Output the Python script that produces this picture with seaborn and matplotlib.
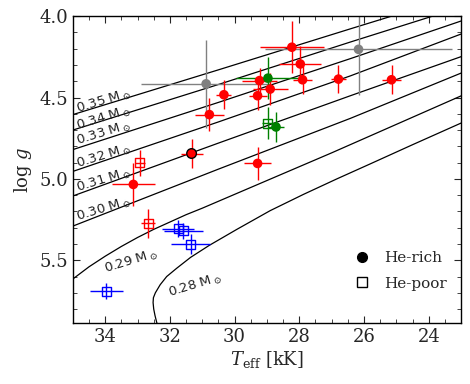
import matplotlib
matplotlib.use('Agg')
import matplotlib.pyplot as plt
from matplotlib.lines import Line2D
from matplotlib.ticker import MultipleLocator
import seaborn as sns
import pandas as pd

# evolutionary tracks (Teff in kK, log g)
track_masses = ['0.35', '0.34', '0.33', '0.32', '0.31', '0.30', '0.29', '0.28']
track_teff = {
    '0.35': [35.0, 30.5, 26.42, 24.0],
    '0.34': [35.0, 30.5, 26.42, 23.0],
    '0.33': [35.0, 30.5, 26.42, 23.0],
    '0.32': [35.0, 30.5, 26.42, 23.0],
    '0.31': [35.0, 30.5, 26.42, 23.0],
    '0.30': [35.0, 30.5, 26.42, 23.0],
    '0.29': [35.0, 34.5, 34.0, 33.5, 33.0, 32.5, 32.0, 31.5, 31.0, 29.0, 27.0, 25.0, 23.0],
    '0.28': [32.33, 32.41, 32.46, 32.50, 32.52, 32.51, 32.45, 32.30, 32.10, 31.79, 31.36,
             30.78, 29.93, 28.90, 27.87, 26.84, 25.81, 24.5, 23.0],
}
track_logg = {
    '0.35': [4.605, 4.33, 4.078, 3.93],
    '0.34': [4.70, 4.42, 4.159, 3.945],
    '0.33': [4.82, 4.53, 4.261, 4.03],
    '0.32': [4.954, 4.65, 4.367, 4.11],
    '0.31': [5.105, 4.78, 4.489, 4.249],
    '0.30': [5.29, 4.94, 4.628, 4.35],
    '0.29': [5.615, 5.54, 5.475, 5.415, 5.36, 5.31, 5.265, 5.22, 5.18, 5.01, 4.84, 4.665, 4.49],
    '0.28': [5.93, 5.88, 5.84, 5.80, 5.76, 5.73, 5.70, 5.65, 5.60, 5.549, 5.482,
             5.408, 5.31, 5.195, 5.095, 5.0, 4.908, 4.79, 4.657],
}
# label positions for the tracks
label_teff = [34.04, 34.04, 34.04, 34.04, 34.04, 34.04, 33.2, 31.22]
label_logg = [4.526, 4.63, 4.722, 4.862, 5.009, 5.19, 5.51, 5.657]

# stars
star_teff = [28.23, 27.97, 26.17, 30.88, 30.33, 30.78, 29.23, 28.97, 28.90, 29.29, 27.90, 26.79,
             25.15, 28.98, 28.72, 29.29, 31.33, 32.93, 33.13, 32.67, 31.74, 31.59, 31.36, 33.96]
star_logg = [4.191, 4.294, 4.204, 4.416, 4.483, 4.605, 4.396, 4.381, 4.448, 4.489, 4.391, 4.387,
             4.391, 4.657, 4.681, 4.905, 4.844, 4.90, 5.034, 5.274, 5.305, 5.319, 5.40, 5.69]
star_teff_err = [0.98, 0.65, 2.9, 2.0, 0.23, 0.44, 0.54, 1.0, 0.54, 0.28, 0.28, 0.23,
                 0.28, 0.18, 0.26, 0.41, 0.34, 0.15, 0.67, 0.22, 0.49, 0.6, 0.61, 0.5]
star_logg_err = [0.16, 0.11, 0.28, 0.27, 0.09, 0.10, 0.08, 0.13, 0.10, 0.09, 0.09, 0.085,
                 0.09, 0.10, 0.09, 0.10, 0.09, 0.08, 0.13, 0.09, 0.05, 0.05, 0.06, 0.05]
star_color = ['red', 'red', 'gray', 'gray', 'red', 'red', 'red', 'green', 'red', 'red', 'red', 'red',
              'red', 'green', 'green', 'red', 'red', 'red', 'red', 'red', 'blue', 'blue', 'blue', 'blue']
star_type = ['He-rich', 'He-rich', 'He-rich', 'He-rich', 'He-rich', 'He-rich', 'He-rich', 'He-rich',
             'He-rich', 'He-rich', 'He-rich', 'He-rich', 'He-rich', 'He-poor', 'He-rich', 'He-rich',
             'He-rich', 'He-poor', 'He-rich', 'He-poor', 'He-poor', 'He-poor', 'He-poor', 'He-poor']
star_edge = ['none'] * 16 + ['black'] + ['none'] * 7

df = pd.DataFrame({
    'teff': star_teff, 'logg': star_logg,
    'teff_err': star_teff_err, 'logg_err': star_logg_err,
    'color': star_color, 'type': star_type, 'edge': star_edge,
})

sns.set_style('ticks')
plt.rcParams['font.family'] = ['DejaVu Serif']
plt.rcParams['mathtext.fontset'] = 'dejavuserif'

fig, ax = plt.subplots(figsize=(4.7, 3.84), dpi=100)
fig.subplots_adjust(left=0.155, right=0.981, top=0.958, bottom=0.159)

for m in track_masses:
    tdf = pd.DataFrame({'teff': track_teff[m], 'logg': track_logg[m]})
    sns.lineplot(data=tdf, x='teff', y='logg', sort=False, estimator=None,
                 color='black', lw=0.9, ax=ax, zorder=1)

for m, lt, lg in zip(track_masses, label_teff, label_logg):
    ax.text(lt, lg, m + r' M$_\odot$', rotation=17, ha='center', va='center',
            rotation_mode='anchor', fontsize=9.5, family='DejaVu Sans', color='#222222')

# error bars, gray ones beneath
for col in ['gray', 'red', 'green', 'blue']:
    sub = df[df['color'] == col]
    ax.errorbar(sub['teff'], sub['logg'], xerr=sub['teff_err'], yerr=sub['logg_err'],
                fmt='none', ecolor=col, elinewidth=1.0, capsize=0, zorder=2)

rich = df[df['type'] == 'He-rich']
poor = df[df['type'] == 'He-poor']
sns.scatterplot(data=rich, x='teff', y='logg', marker='o', s=48,
                color=rich['color'].tolist(), edgecolor=rich['edge'].tolist(),
                linewidth=1.0, ax=ax, zorder=3)
for _, r in poor.iterrows():
    ax.scatter(r['teff'], r['logg'], marker='s', s=42, facecolor='none',
               edgecolor=r['color'], linewidth=1.0, zorder=3)

ax.set_xlim(35, 23)
ax.set_ylim(5.885, 4.0)
ax.xaxis.set_major_locator(MultipleLocator(2))
ax.xaxis.set_minor_locator(MultipleLocator(0.5))
ax.yaxis.set_major_locator(MultipleLocator(0.5))
ax.yaxis.set_minor_locator(MultipleLocator(0.1))
ax.set_yticks([4.0, 4.5, 5.0, 5.5])
ax.set_yticklabels(['4.0', '4.5', '5.0', '5.5'])
ax.tick_params(which='both', direction='in', top=True, right=True, labelsize=13)
ax.tick_params(which='major', length=5, width=0.8)
ax.tick_params(which='minor', length=3, width=0.6)
for sp in ax.spines.values():
    sp.set_linewidth(1.0)
    sp.set_color('black')

ax.set_xlabel(r'$T_{\rm eff}$ [kK]', fontsize=13, labelpad=2)
ax.set_ylabel(r'log $g$', fontsize=13, labelpad=4)

handles = [
    Line2D([], [], marker='o', color='black', ls='none', markersize=7),
    Line2D([], [], marker='s', markerfacecolor='none', markeredgecolor='black', ls='none', markersize=7),
]
ax.legend(handles, ['He-rich', 'He-poor'], loc='lower right', bbox_to_anchor=(0.99, 0.07),
          frameon=False, fontsize=11, handletextpad=0.4, borderaxespad=0.3, labelspacing=0.75)

fig.savefig('out.png', dpi=100)
